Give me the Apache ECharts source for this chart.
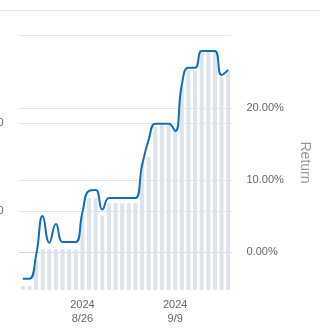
<!DOCTYPE html>
<html lang="en">
<head>
    <meta charset="UTF-8">
    <title>Return</title>
    <script src="https://cdn.jsdelivr.net/npm/echarts@6/dist/echarts.min.js"></script>
</head>
<body style="margin: 0">
<div id="main" style="width: 320px;height: 332px"></div>

<script>
    // daily categories, 8/17 .. 9/17 (2024)
    const days = ['8/17', '8/18', '8/19', '8/20', '8/21', '8/22', '8/23', '8/24', '8/25', '8/26',
        '8/27', '8/28', '8/29', '8/30', '8/31', '9/1', '9/2', '9/3', '9/4', '9/5',
        '9/6', '9/7', '9/8', '9/9', '9/10', '9/11', '9/12', '9/13', '9/14', '9/15',
        '9/16', '9/17'];
    // grey columns (left axis)
    const barValues = [14.8, 14.8, 44, 56.5, 56.5, 56.5, 56.5, 56.5, 56.5, 95,
        115, 115, 95, 108.7, 108.7, 108.7, 108.7, 108.7, 155, 161.7,
        195.8, 197.7, 197.7, 190, 241, 260, 260, 279.5, 281, 281,
        252.6, 259.4];
    // return in % (right axis)
    const returnValues = [-3.7, -3.7, -0.5, 5.0, 1.3, 3.9, 1.4, 1.4, 1.4, 5.5,
        8.5, 8.6, 5.9, 7.5, 7.5, 7.5, 7.5, 7.5, 12.0, 15.6,
        17.8, 17.8, 17.8, 16.8, 23.2, 25.6, 25.6, 27.9, 27.9, 27.9,
        24.6, 25.3];
    const leftTicks = [100, 200, 300];
    const leftLabels = [100, 200];
    const rightTicks = [0, 10, 20];
    const labelDays = [9, 23];

    const chart = echarts.init(document.getElementById('main'));
    const font = "'Liberation Sans', Arial, sans-serif";

    const option = {
        animation: false,
        textStyle: {fontFamily: font},
        graphic: [{
            type: 'line',
            shape: {x1: 0, y1: 10.5, x2: 320, y2: 10.5},
            style: {stroke: '#e6e6e6', lineWidth: 1}
        }],
        grid: {left: 19.5, right: 88.5, top: 35, bottom: 42, containLabel: false, outerBoundsMode: 'none'},
        xAxis: {
            type: 'category',
            data: days,
            axisLine: {lineStyle: {color: '#ccd6eb'}},
            axisTick: {
                alignWithLabel: true,
                length: 8,
                interval: (i) => labelDays.includes(i),
                lineStyle: {color: '#ccd6eb'}
            },
            axisLabel: {
                interval: (i) => labelDays.includes(i),
                formatter: (v) => '2024\n' + v,
                color: '#666666',
                fontSize: 11,
                lineHeight: 14,
                margin: 8,
                fontFamily: font
            },
            splitLine: {show: false}
        },
        yAxis: [{
            type: 'value',
            position: 'left',
            min: 10.2,
            max: 300,
            axisLine: {show: false},
            axisTick: {show: false, customValues: leftTicks},
            axisLabel: {
                customValues: leftLabels,
                color: '#666666',
                fontSize: 11,
                margin: 16,
                padding: [0, 0, 12, 0],
                fontFamily: font
            },
            splitLine: {lineStyle: {color: '#e6e6e6'}}
        }, {
            type: 'value',
            position: 'right',
            min: -5.278,
            max: 30.139,
            name: 'Return',
            nameLocation: 'middle',
            nameRotate: -90,
            nameGap: 66,
            nameTextStyle: {color: '#999999', fontSize: 14, fontFamily: font},
            axisLine: {show: false},
            axisTick: {show: false, customValues: rightTicks},
            axisLabel: {
                customValues: rightTicks,
                formatter: (v) => v.toFixed(2) + '%',
                color: '#666666',
                fontSize: 11,
                margin: 15,
                padding: [0, 0, 12, 0],
                fontFamily: font
            },
            splitLine: {lineStyle: {color: '#e6e6e6'}}
        }],
        series: [{
            type: 'bar',
            yAxisIndex: 0,
            data: barValues,
            barWidth: 4,
            itemStyle: {color: '#dce3ea'},
            silent: true
        }, {
            type: 'line',
            yAxisIndex: 1,
            data: returnValues,
            smooth: 0.5,
            symbol: 'none',
            lineStyle: {color: '#116dbb', width: 2}
        }]
    };
    chart.setOption(option);
</script>
</body>
</html>
